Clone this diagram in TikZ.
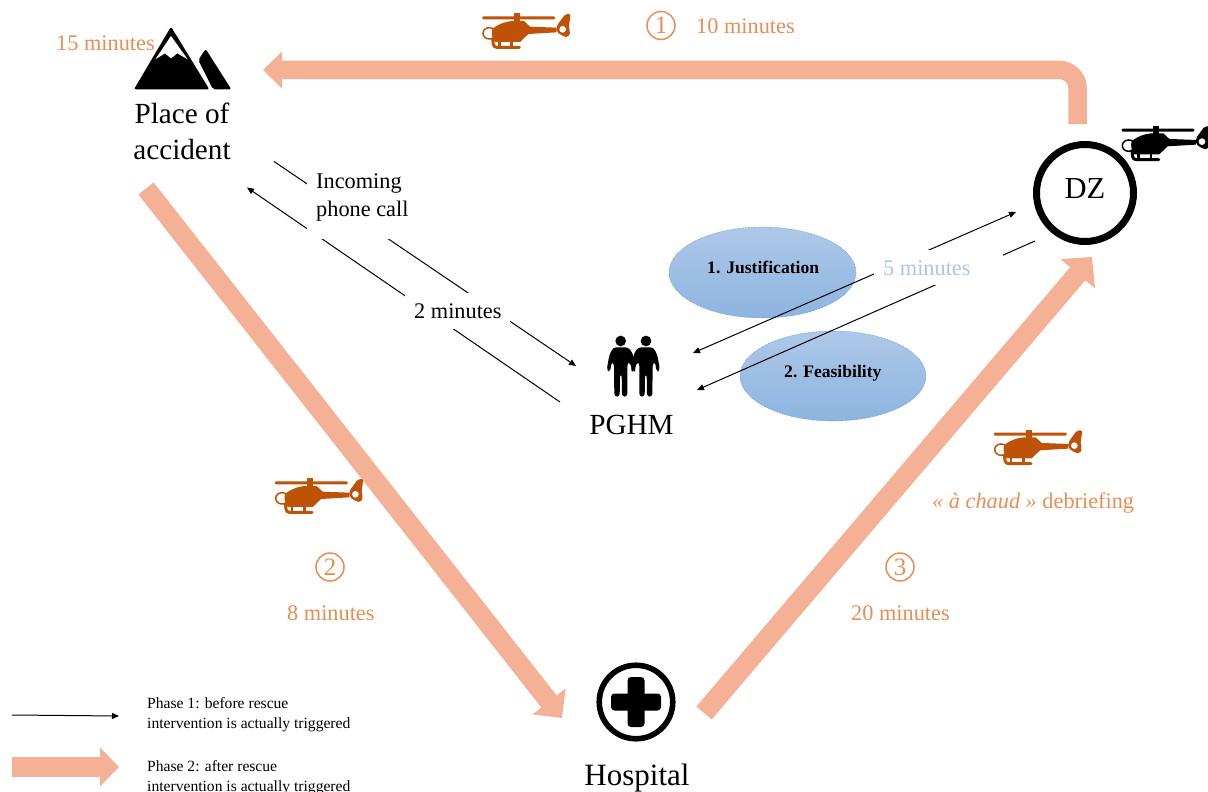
\documentclass[tikz,border=0pt]{standalone}
\usepackage{fontspec}
\setmainfont{Liberation Serif}
\usetikzlibrary{arrows.meta,shapes.geometric}
\definecolor{salmon}{HTML}{F4B196}
\definecolor{orangetxt}{HTML}{E98D55}
\definecolor{helibrown}{HTML}{BE5206}
\definecolor{palebluetxt}{HTML}{B0C4E6}
\definecolor{blobtop}{HTML}{AEC8E8}
\definecolor{blobbot}{HTML}{8DB4E0}
\definecolor{blobedge}{HTML}{5B9BD5}
\tikzset{
  lab/.style={inner sep=0pt,anchor=base west,font=\fontsize{22.3}{26}\selectfont},
  orangelab/.style={lab,text=orangetxt},
  big/.style={inner sep=0pt,anchor=base,align=center,font=\fontsize{29.2}{35.5}\selectfont},
  legendlab/.style={inner sep=0pt,anchor=base west,align=left,font=\fontsize{15.6}{20}\selectfont},
  bluelab/.style={inner sep=0pt,anchor=base west,font=\fontsize{17.6}{20}\selectfont\bfseries},
  thinarrow/.style={black,line width=1pt,-{Triangle[length=7pt,width=6pt]}},
  fatarrow/.style={salmon,line width=19.5pt,-{Triangle[length=21pt,width=41pt,sep=0pt]}},
  blob/.style={ellipse,draw=blobedge,densely dotted,line width=.6pt,top color=blobtop,bottom color=blobbot,inner sep=0pt},
  circnum/.style={circle,draw=orangetxt,line width=1.5pt,minimum size=28pt,inner sep=0pt,text=orangetxt,font=\fontsize{25}{26}\selectfont},
  pics/heli/.style={code={
    \draw[#1,line width=1.5pt] (148,100) ellipse [x radius=19,y radius=17];
    \fill[#1,rounded corners=1pt] (127,49) rectangle (345,58);
    \fill[#1] (222,40) rectangle (240,70);
    \fill[#1] (158,86) .. controls (175,72) and (200,63) .. (222,63) -- (252,63) -- (270,80) -- (350,83) -- (350,97) -- (265,102) -- (240,126) -- (165,126) .. controls (157,114) and (152,98) .. (158,86) -- cycle;
    \draw[#1,line width=3pt,line cap=round,rounded corners=3pt] (158,116) -- (161,142) -- (238,142);
    \draw[#1,line width=2.4pt] (178,120) -- (178,142) (215,120) -- (215,142);
    \fill[#1,rounded corners=2pt] (350,78) -- (376,42) -- (392,42) -- (386,85) -- (392,96) -- (384,112) -- (372,110) -- (350,96) -- cycle;
    \fill[white] (368,88) circle [radius=10];
  }},
  pics/person/.style={code={
    \fill (122,423) circle [radius=16];
    \fill[rounded corners=3pt] (100,442) -- (145,442) -- (158,460) -- (168,510) -- (160,517) -- (148,485) -- (142,490) -- (142,590) -- (126,590) -- (125,522) -- (120,522) -- (119,590) -- (103,590) -- (102,490) -- (95,485) -- (90,516) -- (80,510) -- (88,465) -- cycle;
  }}
}
\begin{document}
\begin{tikzpicture}[x=1pt,y=-1pt]
\useasboundingbox (0,0) rectangle (1208,792);
% anchor points of the connectors
\coordinate (topstart) at (1077.5,124);
\coordinate (topbend) at (1077.5,70);
\coordinate (toptip) at (263,70);
\coordinate (leftstart) at (146,188.5);
\coordinate (lefttip) at (562,718);
\coordinate (rightstart) at (704,713);
\coordinate (righttip) at (1092,257);
\coordinate (callstart) at (274,161.5);
\coordinate (calltip) at (576,366);
\coordinate (backstart) at (560,402);
\coordinate (backtip) at (247,187.5);
\coordinate (dzout) at (693,353);
\coordinate (dzin) at (1016,212);
\coordinate (dzback) at (1035,241);
\coordinate (dztip) at (697,390);
\coordinate (legthinstart) at (12,715);
\coordinate (legthintip) at (119,716);

% thick phase 2 arrows
\draw[fatarrow,-{Triangle[length=19pt,width=36pt,sep=0pt]},line width=18.5pt,rounded corners=18pt] (topstart) -- (topbend) -- (toptip);
\draw[fatarrow] (leftstart) -- (lefttip);
\draw[fatarrow,line width=20pt,-{Triangle[length=22pt,width=44pt,sep=0pt]}] (rightstart) -- (righttip);

% ellipses
\node[blob,minimum width=187pt,minimum height=91pt] (just) at (762.5,272.5) {};
\node[blob,minimum width=186pt,minimum height=90pt] (feas) at (833,376) {};
\node[bluelab] at (707,273) {1. Justification};
\node[bluelab] at (784,377) {2. Feasibility};

% phase 1 arrows
\draw[thinarrow] (callstart) -- (calltip);
\draw[thinarrow] (backstart) -- (backtip);
\draw[thinarrow,{Triangle[length=7pt,width=6pt]}-{Triangle[length=7pt,width=6pt]}] (dzout) -- (dzin);
\draw[thinarrow] (dzback) -- (dztip);

% white label backgrounds interrupting the lines
\fill[white] (307,165) rectangle (420,239);
\fill[white] (405,293) rectangle (510,329);
\fill[white] (874,250) rectangle (1003,285);

% labels on lines
\node[lab] (incoming) at (316,188.5) {Incoming};
\node[lab] (phone) at (316,216.5) {phone call};
\node[lab] (twomin) at (414,318.5) {2 minutes};
\node[lab,text=palebluetxt] (fivemin) at (883,275) {5 minutes};

% DZ
\node[circle,draw=black,line width=7pt,minimum size=97pt,inner sep=0pt] (dz) at (1085,193) {};
\node[inner sep=0pt,anchor=base,font=\fontsize{30.5}{34}\selectfont] at (1085,198) {DZ};
\pic at (1079.3,112.3) [scale=1/3] {heli=black};

% hospital
\node[circle,draw=black,line width=5.6pt,minimum size=73.5pt,inner sep=0pt] (hosp) at (636,702) {};
\fill[rounded corners=3.5pt] (627.5,677) rectangle (644.5,727);
\fill[rounded corners=3.5pt] (611,693.5) rectangle (661,710.5);
\node[big,font=\fontsize{31}{34}\selectfont] at (637,785) {Hospital};

% mountain
\begin{scope}[shift={(40,10)},scale=1/3]
  \fill[rounded corners=2pt] (393,50) -- (508,238) -- (282,238) -- cycle;
  \fill[white] (393,78) -- (443,148) -- (412,130) -- (393,145) -- (375,130) -- (346,148) -- cycle;
  \fill[rounded corners=2pt] (475,150) -- (497,117) -- (574,238) -- (519,238) -- cycle;
\end{scope}
\node[big] at (182,159) {Place of\\accident};
\node[orangelab] at (56,51) {15 minutes};

% PGHM
\pic at (580,200) [scale=1/3] {person};
\pic at (686.67,200) [xscale=-1/3,yscale=1/3] {person};
\node[big] at (631.5,434.5) {PGHM};

% helicopters and orange labels
\pic at (440,0) [scale=1/3] {heli=helibrown};
\pic at (232.7,465) [scale=1/3] {heli=helibrown};
\pic at (951.7,416.3) [scale=1/3] {heli=helibrown};
\node[circnum] (n1) at (661,25.5) {1};
\node[circnum] (n2) at (330,567) {2};
\node[circnum] (n3) at (900,567) {3};
\node[orangelab] at (696,33.5) {10 minutes};
\node[orangelab] at (287,620) {8 minutes};
\node[orangelab] at (851,620) {20 minutes};
\node[orangelab] at (932,508) {\textit{« à chaud »} debriefing};

% legend
\draw[thinarrow] (legthinstart) -- (legthintip);
\coordinate (legfatstart) at (12,767);
\coordinate (legfattip) at (119,767);
\draw[salmon,line width=20pt,-{Triangle[length=19pt,width=38pt,sep=0pt]}] (legfatstart) -- (legfattip);
\node[legendlab] at (147,728) {Phase 1: before rescue\\intervention is actually triggered};
\node[legendlab] at (147,791) {Phase 2: after rescue\\intervention is actually triggered};
\end{tikzpicture}
\end{document}
